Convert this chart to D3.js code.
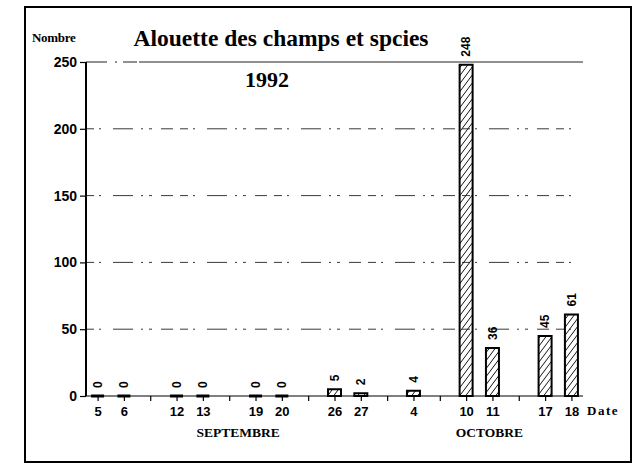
<!DOCTYPE html>
<html>
<head>
<meta charset="utf-8">
<script src="https://cdn.jsdelivr.net/npm/d3@7"></script>
<style>
  body { margin: 0; background: #fff; }
  svg { display: block; }
  .serif { font-family: "Liberation Serif", "DejaVu Serif", serif; font-weight: bold; }
  .sans { font-family: "Liberation Sans", "DejaVu Sans", sans-serif; font-weight: bold; }
</style>
</head>
<body>
<div id="chart"></div>
<script>
// data
var dates = ["5", "6", "12", "13", "19", "20", "26", "27", "4", "10", "11", "17", "18"];
var counts = [0, 0, 0, 0, 0, 0, 5, 2, 4, 248, 36, 45, 61];
// x slots, gaps between the pairs get only a small tick
var slots = ["5", "6", "g1", "12", "13", "g2", "19", "20", "g3", "26", "27", "g4", "4", "g5", "10", "11", "g6", "17", "18"];
var months = ["SEPTEMBRE", "OCTOBRE"];
var monthFirst = ["5", "4"];
var monthLast = ["27", "18"];
var yTicks = [0, 50, 100, 150, 200, 250];

var W = 639, H = 464;
var margin = {top: 62, right: 56, bottom: 68, left: 86},
    w = W - margin.left - margin.right,
    h = H - margin.top - margin.bottom;

var svg = d3.select("#chart")
  .append("svg")
  .attr("width", W)
  .attr("height", H);

// hatching for the bars
var defs = svg.append("defs");
defs.append("pattern")
  .attr("id", "hatch")
  .attr("patternUnits", "userSpaceOnUse")
  .attr("width", 6)
  .attr("height", 8)
  .append("path")
  .attr("d", "M-1,9.33 L7,-1.33 M-7,9.33 L1,-1.33 M5,9.33 L13,-1.33")
  .attr("stroke", "#111")
  .attr("stroke-width", 1);

// outer frame
svg.append("rect")
  .attr("x", 25).attr("y", 7)
  .attr("width", 606).attr("height", 455)
  .attr("fill", "none")
  .attr("stroke", "#000")
  .attr("stroke-width", 2);

var g = svg.append("g")
  .attr("transform", "translate(" + margin.left + "," + margin.top + ")");

var x = d3.scalePoint()
  .domain(slots)
  .range([0, w])
  .padding(0.44);

var y = d3.scaleLinear()
  .domain([0, 250])
  .range([h, 0]);

// grid lines, broken like on the photocopy
g.selectAll(".grid")
  .data(yTicks.filter(function(d) { return d > 0; }))
  .enter()
  .append("line")
  .attr("x1", 0)
  .attr("x2", w)
  .attr("y1", function(d) { return y(d); })
  .attr("y2", function(d) { return y(d); })
  .attr("stroke", "#222")
  .attr("stroke-width", function(d) { return d == 250 ? 1.2 : 0.9; })
  .attr("stroke-dasharray", function(d) {
    return d == 250 ? "21,8,2,6,14,2,600" : "8,5,2,12,20,8,2,6,3,9,12,7";
  });

// y axis
var yAxis = d3.axisLeft(y)
  .tickValues(yTicks)
  .tickSize(6)
  .tickPadding(3);
var ya = g.append("g").call(yAxis);
ya.select(".domain").remove();
ya.selectAll("line").attr("stroke", "#000").attr("stroke-width", 1.2);
ya.selectAll("text")
  .attr("class", "sans")
  .attr("font-size", "14px")
  .attr("fill", "#000");
g.append("line")
  .attr("x1", 0).attr("x2", 0)
  .attr("y1", 0).attr("y2", h)
  .attr("stroke", "#000")
  .attr("stroke-width", 2);

// x axis
var xAxis = d3.axisBottom(x)
  .tickSize(5)
  .tickPadding(6)
  .tickFormat(function(d) { return d.charAt(0) == "g" ? "" : d; });
var xa = g.append("g")
  .attr("transform", "translate(0," + h + ")")
  .call(xAxis);
xa.select(".domain").remove();
xa.selectAll("line").attr("stroke", "#000").attr("stroke-width", 1.2);
xa.selectAll("text")
  .attr("class", "sans")
  .attr("font-size", "13px")
  .attr("fill", "#000");
g.append("line")
  .attr("x1", 0).attr("x2", w)
  .attr("y1", h).attr("y2", h)
  .attr("stroke", "#000")
  .attr("stroke-width", 1.2);

// bars (a path so a zero value still leaves a flat stroke)
var bw = 13;
g.selectAll(".bar")
  .data(dates)
  .enter()
  .append("path")
  .attr("d", function(d, i) {
    var x0 = x(d) - bw / 2, x1 = x(d) + bw / 2, yt = y(counts[i]);
    return "M" + x0 + "," + h + "V" + yt + "H" + x1 + "V" + h + "Z";
  })
  .attr("fill", "url(#hatch)")
  .attr("stroke", "#000")
  .attr("stroke-width", function(d, i) { return counts[i] == 0 ? 3 : 2; });

// values, written upward above each bar
g.selectAll(".val")
  .data(dates)
  .enter()
  .append("text")
  .attr("class", "sans")
  .attr("transform", function(d, i) {
    return "translate(" + x(d) + "," + (y(counts[i]) - 8) + ") rotate(-90)";
  })
  .attr("dy", "0.35em")
  .attr("text-anchor", "start")
  .attr("font-size", "12px")
  .text(function(d, i) { return counts[i]; });

// month names under the dates
g.selectAll(".month")
  .data(months)
  .enter()
  .append("text")
  .attr("class", "serif")
  .attr("x", function(d, i) { return (x(monthFirst[i]) + x(monthLast[i])) / 2 + (i == 0 ? 9 : -3); })
  .attr("y", h + 41)
  .attr("text-anchor", "middle")
  .attr("font-size", "13.5px")
  .text(function(d) { return d; });

g.append("text")
  .attr("class", "serif")
  .attr("x", w + 4)
  .attr("y", h + 19)
  .attr("font-size", "13px")
  .attr("letter-spacing", "1.5px")
  .text("Date");

// titles
svg.append("text")
  .attr("class", "serif")
  .attr("x", 32)
  .attr("y", 42)
  .attr("font-size", "13px")
  .attr("letter-spacing", "-0.3px")
  .text("Nombre");

svg.append("text")
  .attr("class", "serif")
  .attr("x", 281)
  .attr("y", 46)
  .attr("text-anchor", "middle")
  .attr("font-size", "23.5px")
  .text("Alouette des champs et spcies");

svg.append("text")
  .attr("class", "serif")
  .attr("x", 267)
  .attr("y", 87)
  .attr("text-anchor", "middle")
  .attr("font-size", "22px")
  .text("1992");
</script>
</body>
</html>
